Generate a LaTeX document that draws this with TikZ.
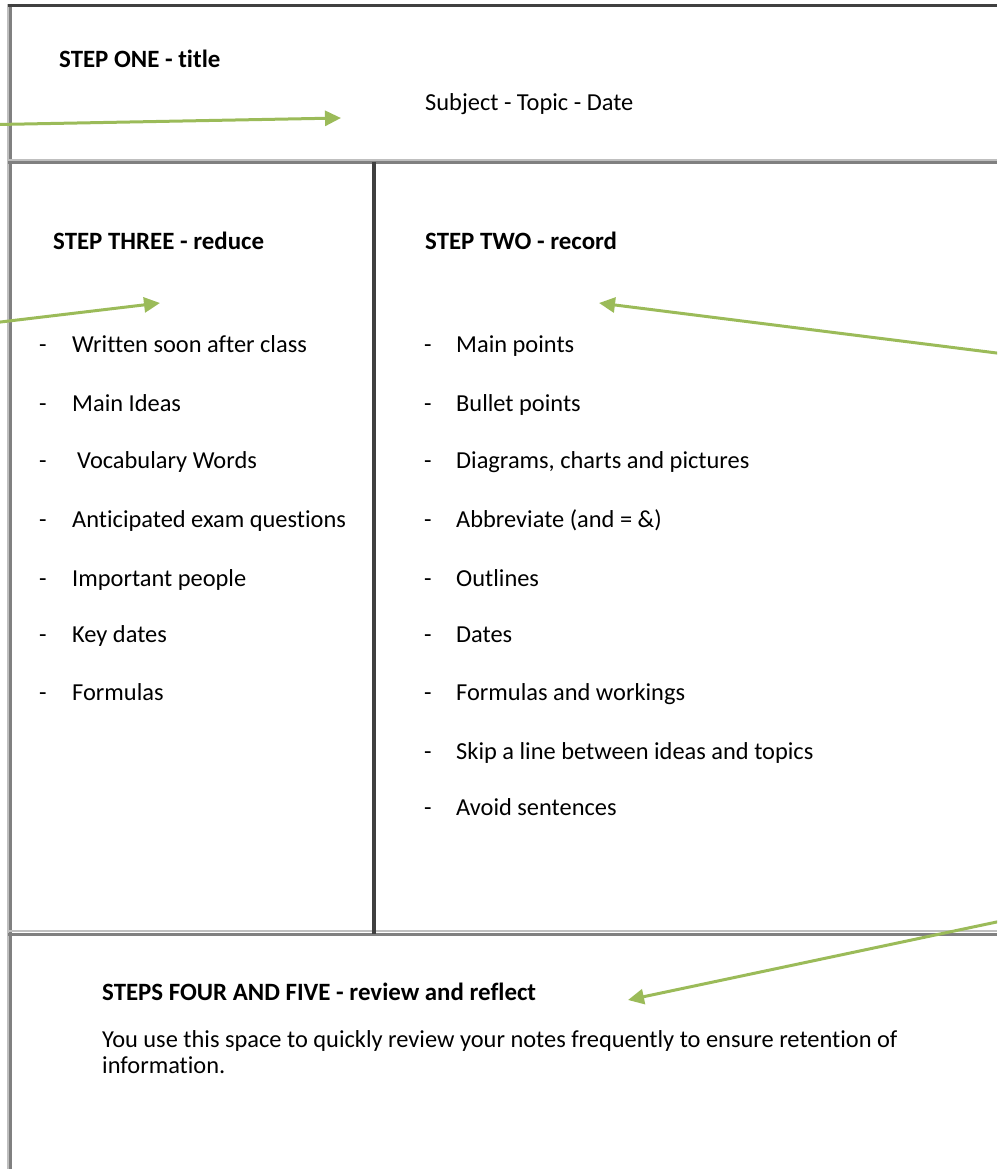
\documentclass[tikz,border=0pt]{standalone}
\usepackage{fontspec}
\setmainfont{Carlito}[Ligatures={NoCommon}]
\usetikzlibrary{arrows.meta}
\definecolor{pointercol}{HTML}{9BBB59}
\definecolor{ruledark}{HTML}{404040}
\definecolor{rulegray}{HTML}{808080}
\definecolor{rulelight}{HTML}{BFBFBF}
\tikzset{
  txt/.style={anchor=base west, inner sep=0pt, font=\fontsize{24.4}{26}\selectfont},
  headtxt/.style={txt, font=\fontsize{24.9}{26}\selectfont\bfseries},
  pointer/.style={draw=pointercol, line width=3pt, -{Triangle[length=16pt,width=15pt]}},
  darkrule/.style={draw=ruledark, line width=3pt},
  grayrule/.style={draw=rulegray, line width=3pt},
  lightrule/.style={draw=rulelight, line width=2pt},
}
\begin{document}
\begin{tikzpicture}[x=1pt,y=-1pt]
\useasboundingbox (0,0) rectangle (997,1169);
\clip (0,0) rectangle (997,1169);

% page frame and section rules
\draw[lightrule] (7.5,4) -- (7.5,1169);
\draw[grayrule] (10.5,4) -- (10.5,1169);
\draw[darkrule] (8,5.5) -- (997,5.5);
\draw[lightrule] (8,160) -- (997,160);
\draw[grayrule] (8,163) -- (997,163);
\draw[lightrule] (8,931) -- (997,931);
\draw[grayrule] (8,934) -- (997,934);
\draw[draw=ruledark, line width=4pt] (374,162) -- (374,934);

% title area
\node[headtxt] (one) at (59,68) {STEP ONE - title};
\node[txt] (subject) at (425,111) {Subject - Topic - Date};

% cue column
\node[headtxt] (three) at (53,249) {STEP THREE - reduce};
\foreach \y/\t [count=\i] in {352/Written soon after class, 411/Main Ideas,
    527/Anticipated exam questions, 586/Important people, 642/Key dates, 700/Formulas} {
  \node[txt] (ldash\i) at (39,\y) {-};
  \node[txt] (litem\i) at (72,\y) {\t};
}
\node[txt] (ldashv) at (39,468) {-};
\node[txt] (litemv) at (77,468) {Vocabulary Words};

% note-taking column
\node[headtxt] (two) at (425,249) {STEP TWO - record};
\foreach \y/\t [count=\i] in {352/Main points, 411/Bullet points,
    468/{Diagrams, charts and pictures}, 527/Abbreviate (and = \&), 586/Outlines,
    642/Dates, 700/Formulas and workings, 759/Skip a line between ideas and topics,
    815/Avoid sentences} {
  \node[txt] (rdash\i) at (424,\y) {-};
  \node[txt] (ritem\i) at (456,\y) {\t};
}

% summary area
\node[headtxt] (four) at (102,1000) {STEPS FOUR AND FIVE - review and reflect};
\node[txt] (review1) at (102,1047) {You use this space to quickly review your notes frequently to ensure retention of};
\node[txt] (review2) at (102,1073) {information.};

% pointers
\coordinate (p1s) at (-2,124.5);  \coordinate (p1e) at (341,118);
\coordinate (p2s) at (-2,322.3);  \coordinate (p2e) at (160,303);
\coordinate (p3s) at (999,353.3); \coordinate (p3e) at (599,303);
\coordinate (p4s) at (999,921.5); \coordinate (p4e) at (628,1000);
\draw[pointer] (p1s) -- (p1e);
\draw[pointer] (p2s) -- (p2e);
\draw[pointer] (p3s) -- (p3e);
\draw[pointer] (p4s) -- (p4e);
\end{tikzpicture}
\end{document}
